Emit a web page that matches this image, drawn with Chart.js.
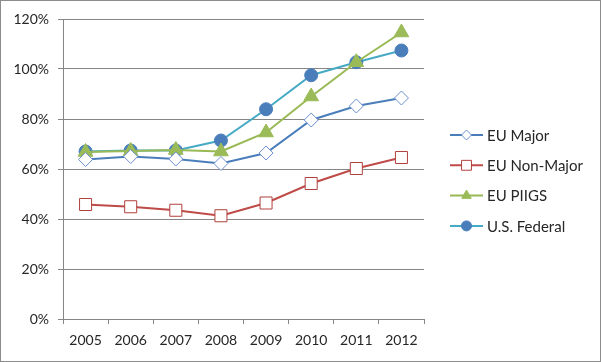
<!DOCTYPE html>
<html>
<head>
<meta charset="utf-8">
<script src="https://cdn.jsdelivr.net/npm/chart.js@4"></script>
<style>
  body { margin: 0; background: #fff; }
  #box { width: 599px; height: 360px; border: 1px solid #8c8c8c; }
</style>
</head>
<body>
<div id="box"><canvas id="debtChart" width="599" height="360"></canvas></div>
<script>
// years along the bottom
var years = ["2005", "2006", "2007", "2008", "2009", "2010", "2011", "2012"];

// debt as % of GDP
var euMajor = [63.8, 65.0, 64.0, 62.2, 66.4, 79.6, 85.2, 88.4];
var euNonMajor = [45.8, 44.9, 43.5, 41.3, 46.4, 54.2, 60.2, 64.6];
var euPiigs = [66.8, 67.2, 67.6, 67.0, 74.6, 89.0, 102.7, 114.6];
var usFederal = [67.0, 67.4, 67.4, 71.4, 83.9, 97.5, 102.7, 107.4];

var yTicks = [0, 20, 40, 60, 80, 100, 120];

var fontFamily = "Lato, 'Open Sans', sans-serif";

// legend drawn like excel: short line with marker in the middle
var sideLegend = {
    id: 'sideLegend',
    afterDraw: function (chart) {
        var ctx = chart.ctx;
        var x0 = 449, y0 = 134, gap = 30.3;
        chart.data.datasets.forEach(function (ds, i) {
            var y = y0 + i * gap;
            ctx.save();
            ctx.strokeStyle = ds.borderColor;
            ctx.lineWidth = 2;
            ctx.beginPath();
            ctx.moveTo(x0, y);
            ctx.lineTo(x0 + 33, y);
            ctx.stroke();
            ctx.fillStyle = ds.pointBackgroundColor;
            ctx.strokeStyle = ds.pointBorderColor;
            ctx.lineWidth = 1;
            Chart.helpers.drawPoint(ctx, {
                pointStyle: ds.pointStyle,
                radius: ds.legendRadius,
                rotation: 0,
                borderWidth: 1
            }, x0 + 16.5, y);
            ctx.fillStyle = '#262626';
            ctx.font = "15px " + fontFamily;
            ctx.textBaseline = 'middle';
            ctx.fillText(ds.label, x0 + 37, y + 1);
            ctx.restore();
        });
    }
};

var ctx = document.getElementById("debtChart").getContext("2d");
new Chart(ctx, {
    type: 'line',
    data: {
        labels: years,
        datasets: [
            {
                label: "EU Major", data: euMajor,
                borderColor: "#4a7ebb", borderWidth: 2,
                pointStyle: 'rectRot', pointRadius: 7, legendRadius: 5,
                pointBackgroundColor: "#ffffff", pointBorderColor: "#6b8fcf", pointBorderWidth: 1
            },
            {
                label: "EU Non-Major", data: euNonMajor,
                borderColor: "#be4b48", borderWidth: 2,
                pointStyle: 'rect', pointRadius: 8.5, legendRadius: 7,
                pointBackgroundColor: "#ffffff", pointBorderColor: "#b0403d", pointBorderWidth: 1
            },
            {
                label: "EU PIIGS", data: euPiigs,
                borderColor: "#98b954", borderWidth: 2,
                pointStyle: 'triangle', pointRadius: 8.5, legendRadius: 5.5,
                pointBackgroundColor: "#9bbb59", pointBorderColor: "#9bbb59", pointBorderWidth: 1
            },
            {
                label: "U.S. Federal", data: usFederal,
                borderColor: "#46aac4", borderWidth: 2,
                pointStyle: 'circle', pointRadius: 6.5, legendRadius: 5,
                pointBackgroundColor: "#4a7ebb", pointBorderColor: "#4a7ebb", pointBorderWidth: 1
            }
        ]
    },
    options: {
        responsive: false,
        animation: false,
        layout: { padding: { top: 18, right: 176, left: 0, bottom: 0 } },
        plugins: {
            legend: { display: false },
            tooltip: { enabled: false }
        },
        elements: { line: { tension: 0 } },
        scales: {
            x: {
                offset: true,
                afterFit: function (s) { s.height = 42; },
                grid: {
                    offset: true, drawOnChartArea: false, drawTicks: true,
                    tickLength: 5, color: "#868686"
                },
                border: { color: "#868686" },
                ticks: { color: '#262626', font: { size: 14, family: fontFamily }, padding: 8, maxRotation: 0 }
            },
            y: {
                min: 0, max: 120,
                afterFit: function (s) { s.width = 62; },
                afterBuildTicks: function (s) {
                    s.ticks = yTicks.map(function (v) { return { value: v }; });
                },
                grid: { color: "#868686", drawTicks: true, tickLength: 5 },
                border: { color: "#868686" },
                ticks: {
                    color: '#262626', font: { size: 14, family: fontFamily }, padding: 9,
                    callback: function (v) { return v + "%"; }
                }
            }
        }
    },
    plugins: [sideLegend]
});
</script>
</body>
</html>
